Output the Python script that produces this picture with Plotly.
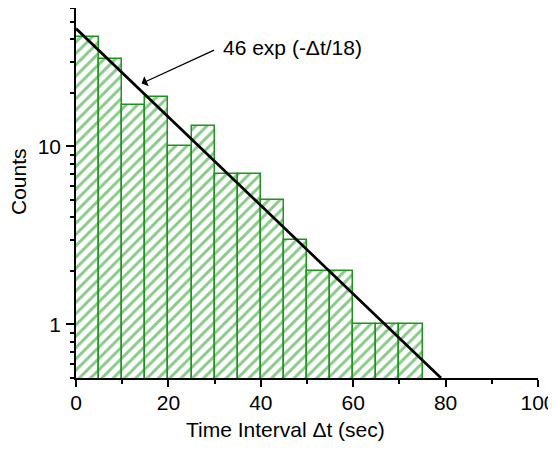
import numpy as np
import plotly.graph_objects as go

# Histogram data (bin left edges, width 5 s)
bin_start = [0, 5, 10, 15, 20, 25, 30, 35, 40, 45, 50, 55, 60, 65, 70]
counts = [41, 31, 17, 19, 10, 13, 7, 7, 5, 3, 2, 2, 1, 1, 1]
bin_width = 5

# Fit line: 46 exp(-dt/18)
fit_t = [0, 79]
fit_counts = [46, 0.5]

x_tick_vals = [0, 20, 40, 60, 80, 100]
y_tick_vals = [1, 10]

fit_label = "46 exp (-\u0394t/18)"
x_title = "Time Interval \u0394t (sec)"
y_title = "Counts"

FONT = "Arial, Liberation Sans, sans-serif"
FS = 21
GREEN = "#1a961a"
HATCH = "#139313"

# page body has an 8px margin; figure sized to fit inside the window
OFF = 8
W, H = 556 - OFF, 449 - 2 * OFF
# plot area in window pixels
PX0, PX1, PY0, PY1 = 76, 538, 8, 378

fig = go.Figure()
fig.add_trace(go.Bar(
    x=bin_start, y=counts, width=bin_width, offset=0,
    marker=dict(
        color="white",
        line=dict(color=GREEN, width=1.5),
        pattern=dict(shape="/", fgcolor=HATCH, bgcolor="white", size=8, solidity=0.36),
    ),
    showlegend=False,
))
fig.add_trace(go.Scatter(
    x=fit_t, y=fit_counts, mode="lines",
    line=dict(color="black", width=2.7),
    showlegend=False,
))

# arrow (no text)
fig.add_annotation(
    x=14.2, y=np.log10(22.6), xref="x", yref="y",
    ax=74, ay=-34, axref="pixel", ayref="pixel",
    text="", showarrow=True, arrowhead=1, arrowsize=1.4, arrowwidth=1.3,
    arrowcolor="black",
)
# label
fig.add_annotation(
    x=31.3, y=np.log10(36.2), xref="x", yref="y",
    text=fit_label, showarrow=False, xanchor="left", yanchor="middle",
    font=dict(family=FONT, size=FS, color="black"),
)
# x title
fig.add_annotation(
    x=(285 - PX0) / (PX1 - PX0), y=-(429 - PY1) / (PY1 - PY0), xref="paper", yref="paper",
    text=x_title, showarrow=False, xanchor="center", yanchor="middle",
    font=dict(family=FONT, size=FS, color="black"),
)
# y title
fig.add_annotation(
    x=-(PX0 - 18) / (PX1 - PX0), y=(PY1 - 182) / (PY1 - PY0), xref="paper", yref="paper",
    text=y_title, showarrow=False, xanchor="center", yanchor="middle",
    textangle=-90,
    font=dict(family=FONT, size=FS, color="black"),
)

fig.update_layout(
    width=W, height=H,
    margin=dict(l=PX0 - OFF, r=W - (PX1 - OFF), t=PY0 - OFF, b=H - (PY1 - OFF)),
    paper_bgcolor="white", plot_bgcolor="white",
    bargap=0,
    font=dict(family=FONT, size=FS, color="black"),
    xaxis=dict(
        range=[0, 100], showgrid=False, zeroline=False,
        showline=True, linecolor="black", linewidth=1.5,
        ticks="outside", ticklen=7, tickwidth=1.5, tickcolor="black",
        tickmode="array", tickvals=x_tick_vals,
        ticklabelstandoff=-2, automargin=False, ticklabeloverflow="allow",
        minor=dict(dtick=10, ticks="outside", ticklen=4, tickwidth=1.5, tickcolor="black", showgrid=False),
        tickfont=dict(size=FS),
    ),
    yaxis=dict(
        type="log", range=[np.log10(0.5), np.log10(60)],
        showgrid=False, zeroline=False,
        showline=True, linecolor="black", linewidth=1.5,
        ticks="outside", ticklen=8, tickwidth=1.5, tickcolor="black",
        tickmode="array", tickvals=y_tick_vals,
        ticklabelstandoff=1, automargin=False, ticklabeloverflow="allow",
        minor=dict(dtick="D1", ticks="outside", ticklen=4, tickwidth=1.5, tickcolor="black", showgrid=False),
        tickfont=dict(size=FS),
    ),
)

fig.write_html("out.html")
